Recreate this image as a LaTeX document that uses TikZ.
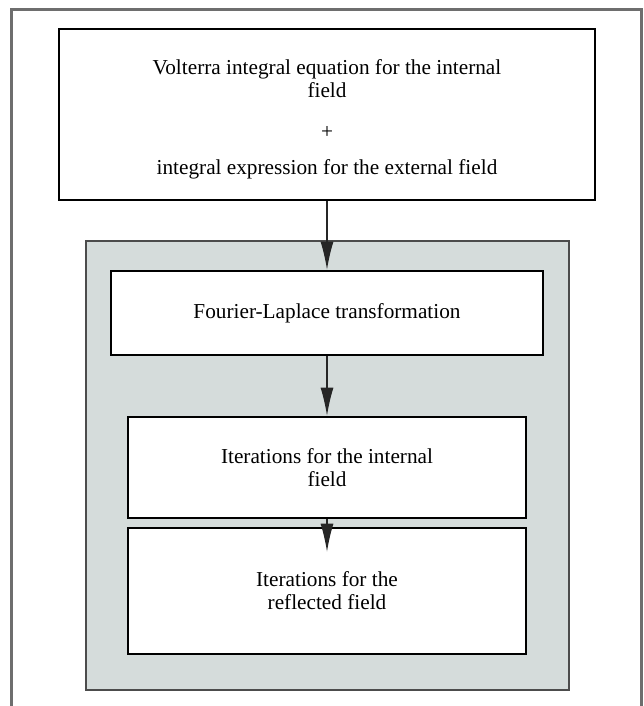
\documentclass[tikz,border=0pt]{standalone}
\usepackage{fontspec}
\setmainfont{Liberation Serif}
\usetikzlibrary{arrows.meta}
\definecolor{panelgray}{RGB}{213,220,219}
\definecolor{framegray}{RGB}{110,110,110}
\tikzset{
  stepbox/.style={draw=black,line width=1.5pt,fill=white,align=center,inner sep=0pt},
  flow/.style={-{Latex[length=0.56cm,width=0.26cm]},draw=black!85,line width=0.6pt},
}
\begin{document}
\begin{tikzpicture}[font=\fontsize{12.1}{13.2}\selectfont]
 \useasboundingbox (0,0) rectangle (12.86,-14.12);
 % outer frame, open at the bottom
 \draw[framegray,line width=1.7pt] (0.23,-14.12)--(0.23,-0.19)--(12.83,-0.19)--(12.83,-14.12);
 % shaded panel
 \filldraw[fill=panelgray,draw=black!70,line width=0.6pt] (1.72,-4.82) rectangle (11.38,-13.8);
 \node[stepbox,minimum width=10.72cm,minimum height=3.42cm] (volterra) at (6.54,-2.29)
   {\rule{0pt}{14pt}Volterra integral equation for the internal\\ field\\[10pt] +\\[7pt] integral expression for the external field};
 \node[stepbox,minimum width=8.64cm,minimum height=1.68cm] (fourier) at (6.54,-6.26)
   {Fourier-Laplace transformation};
 \node[stepbox,minimum width=7.96cm,minimum height=2.02cm] (internal) at (6.54,-9.35)
   {Iterations for the internal\\ field};
 \node[stepbox,minimum width=7.96cm,minimum height=2.52cm] (reflected) at (6.54,-11.82)
   {Iterations for the\\ reflected field};
 \coordinate (tip) at ([yshift=-0.5cm]reflected.north);
 \draw[flow] (volterra) -- (fourier);
 \draw[flow] (fourier) -- (internal);
 \draw[flow] (internal.south) -- (tip);
\end{tikzpicture}
\end{document}
